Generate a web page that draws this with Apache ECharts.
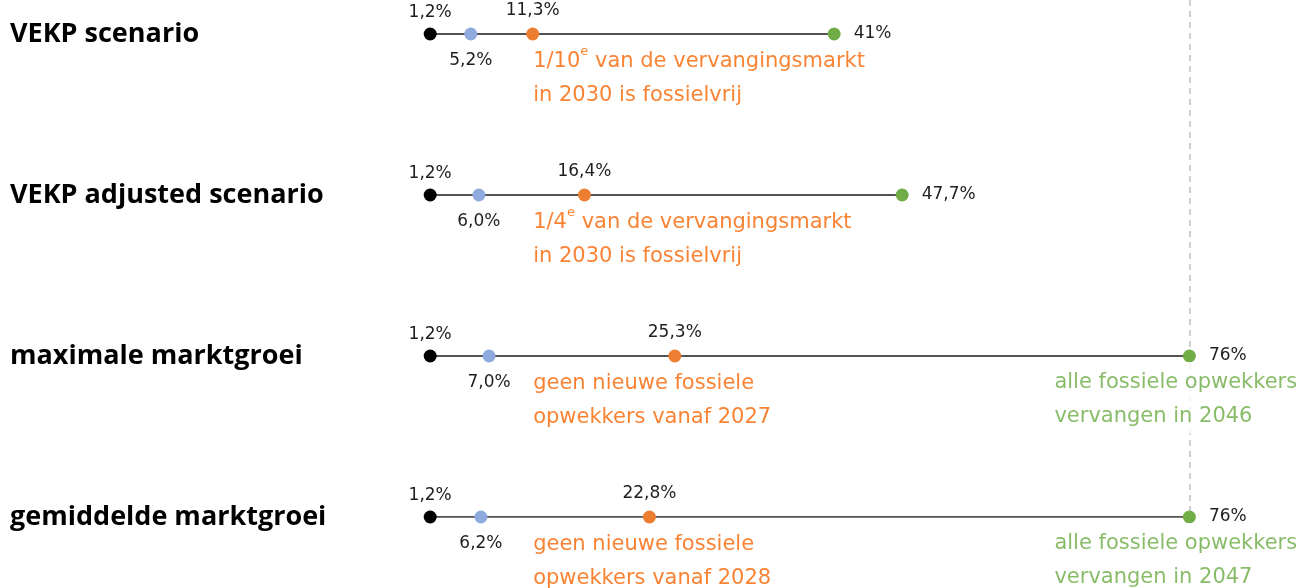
<!DOCTYPE html>
<html><head><meta charset="utf-8">
<script src="https://cdn.jsdelivr.net/npm/echarts@6/dist/echarts.min.js"></script>
<style>html,body{margin:0;padding:0;background:#fff}#c{width:1308px;height:588px}</style>
</head><body><div id="c"></div>
<script>
const categories = ['VEKP scenario', 'VEKP adjusted scenario', 'maximale marktgroei', 'gemiddelde marktgroei'];
const startValues = [1.2, 1.2, 1.2, 1.2];
const blueValues = [5.2, 6.0, 7.0, 6.2];
const orangeValues = [11.3, 16.4, 25.3, 22.8];
const greenValues = [41, 47.7, 76, 76];
const orangeNotes = [
  '1/10e van de vervangingsmarkt\nin 2030 is fossielvrij',
  '1/4e van de vervangingsmarkt\nin 2030 is fossielvrij',
  'geen nieuwe fossiele\nopwekkers vanaf 2027',
  'geen nieuwe fossiele\nopwekkers vanaf 2028'
];
const greenNotes = [
  '',
  '',
  'alle fossiele opwekkers\nvervangen in 2046',
  'alle fossiele opwekkers\nvervangen in 2047'
];

const TITLE_FONT = 'Open Sans';
const FONT = 'DejaVu Sans';
const ORANGE_TXT = '#f86400';
const GREEN_TXT = '#6aab42';
const VAL_TXT = '#1e1e1e';

const fmt1 = v => v.toFixed(1).replace('.', ',') + '%';
const fmtG = v => String(v).replace('.', ',') + '%';
const richify = s => s.split('\n').map(line => {
  const m = line.match(/^(1\/\d+)e(.*)$/);
  return m ? '{a|' + m[1] + '}{sup|e}{a|' + m[2] + '}' : '{a|' + line + '}';
}).join('\n');

function dotSeries(vals, color, pos, fmt, dist) {
  return {
    type: 'scatter', symbolSize: 13, z: 5,
    itemStyle: { color: color, opacity: 1 },
    data: vals.map((v, i) => [v, i]),
    label: {
      show: true, position: pos, distance: dist,
      formatter: p => fmt(p.value[0]),
      color: VAL_TXT, fontFamily: FONT, fontSize: 17
    },
    emphasis: { disabled: true }
  };
}

function noteRich(color) {
  return {
    a: { fontFamily: FONT, fontSize: 21, lineHeight: 34, color: color },
    sup: { fontFamily: FONT, fontSize: 13, lineHeight: 22, verticalAlign: 'top', color: color }
  };
}

const option = {
  animation: false,
  grid: { left: 418, right: 78, top: 0, bottom: 71 },
  xAxis: { type: 'value', min: 0, max: 80, show: false },
  yAxis: {
    type: 'value', inverse: true, min: -0.211, max: 3,
    axisLine: { show: false }, axisTick: { show: false }, splitLine: { show: false },
    axisLabel: {
      customValues: [0, 1, 2, 3],
      formatter: v => categories[Math.round(v)] || '',
      align: 'left', margin: 408, verticalAlign: 'middle',
      padding: [0, 0, 8, 0],
      fontFamily: TITLE_FONT, fontWeight: 'bold', fontSize: 27, color: '#000'
    }
  },
  series: [
    {
      type: 'lines', coordinateSystem: 'cartesian2d', z: 2,
      lineStyle: { color: '#1a1a1a', width: 1.5, opacity: 1 },
      data: startValues.map((s, i) => ({ coords: [[s, i], [greenValues[i], i]] })),
      markLine: {
        silent: true, symbol: ['none', 'none'], label: { show: false },
        lineStyle: { type: [6, 5], color: '#c0c0c0', width: 1.5 },
        data: [{ xAxis: Math.max(...greenValues) }]
      }
    },
    dotSeries(startValues, '#000000', 'top', fmt1, 6),
    dotSeries(blueValues, '#8faadc', 'bottom', fmt1, 12),
    dotSeries(orangeValues, '#ed7d31', 'top', fmt1, 8),
    dotSeries(greenValues, '#70ad47', 'right', fmtG, 13),
    {
      type: 'scatter', symbolSize: 0, z: 6, silent: true,
      data: startValues.map((v, i) => [v, i]),
      label: {
        show: true, position: [103, 11],
        formatter: p => richify(orangeNotes[p.dataIndex]),
        rich: noteRich(ORANGE_TXT)
      }
    },
    {
      type: 'scatter', symbolSize: 0, z: 6, silent: true,
      data: greenValues.map((v, i) => [v, i]),
      label: {
        show: true, position: [-135, 6],
        padding: [4, 0, 0, 0],
        formatter: p => greenNotes[p.dataIndex] ? richify(greenNotes[p.dataIndex]) : '',
        backgroundColor: '#ffffff',
        rich: noteRich(GREEN_TXT)
      }
    }
  ]
};
const chart = echarts.init(document.getElementById('c'), null, { renderer: 'canvas' });
chart.setOption(option);
</script></body></html>
